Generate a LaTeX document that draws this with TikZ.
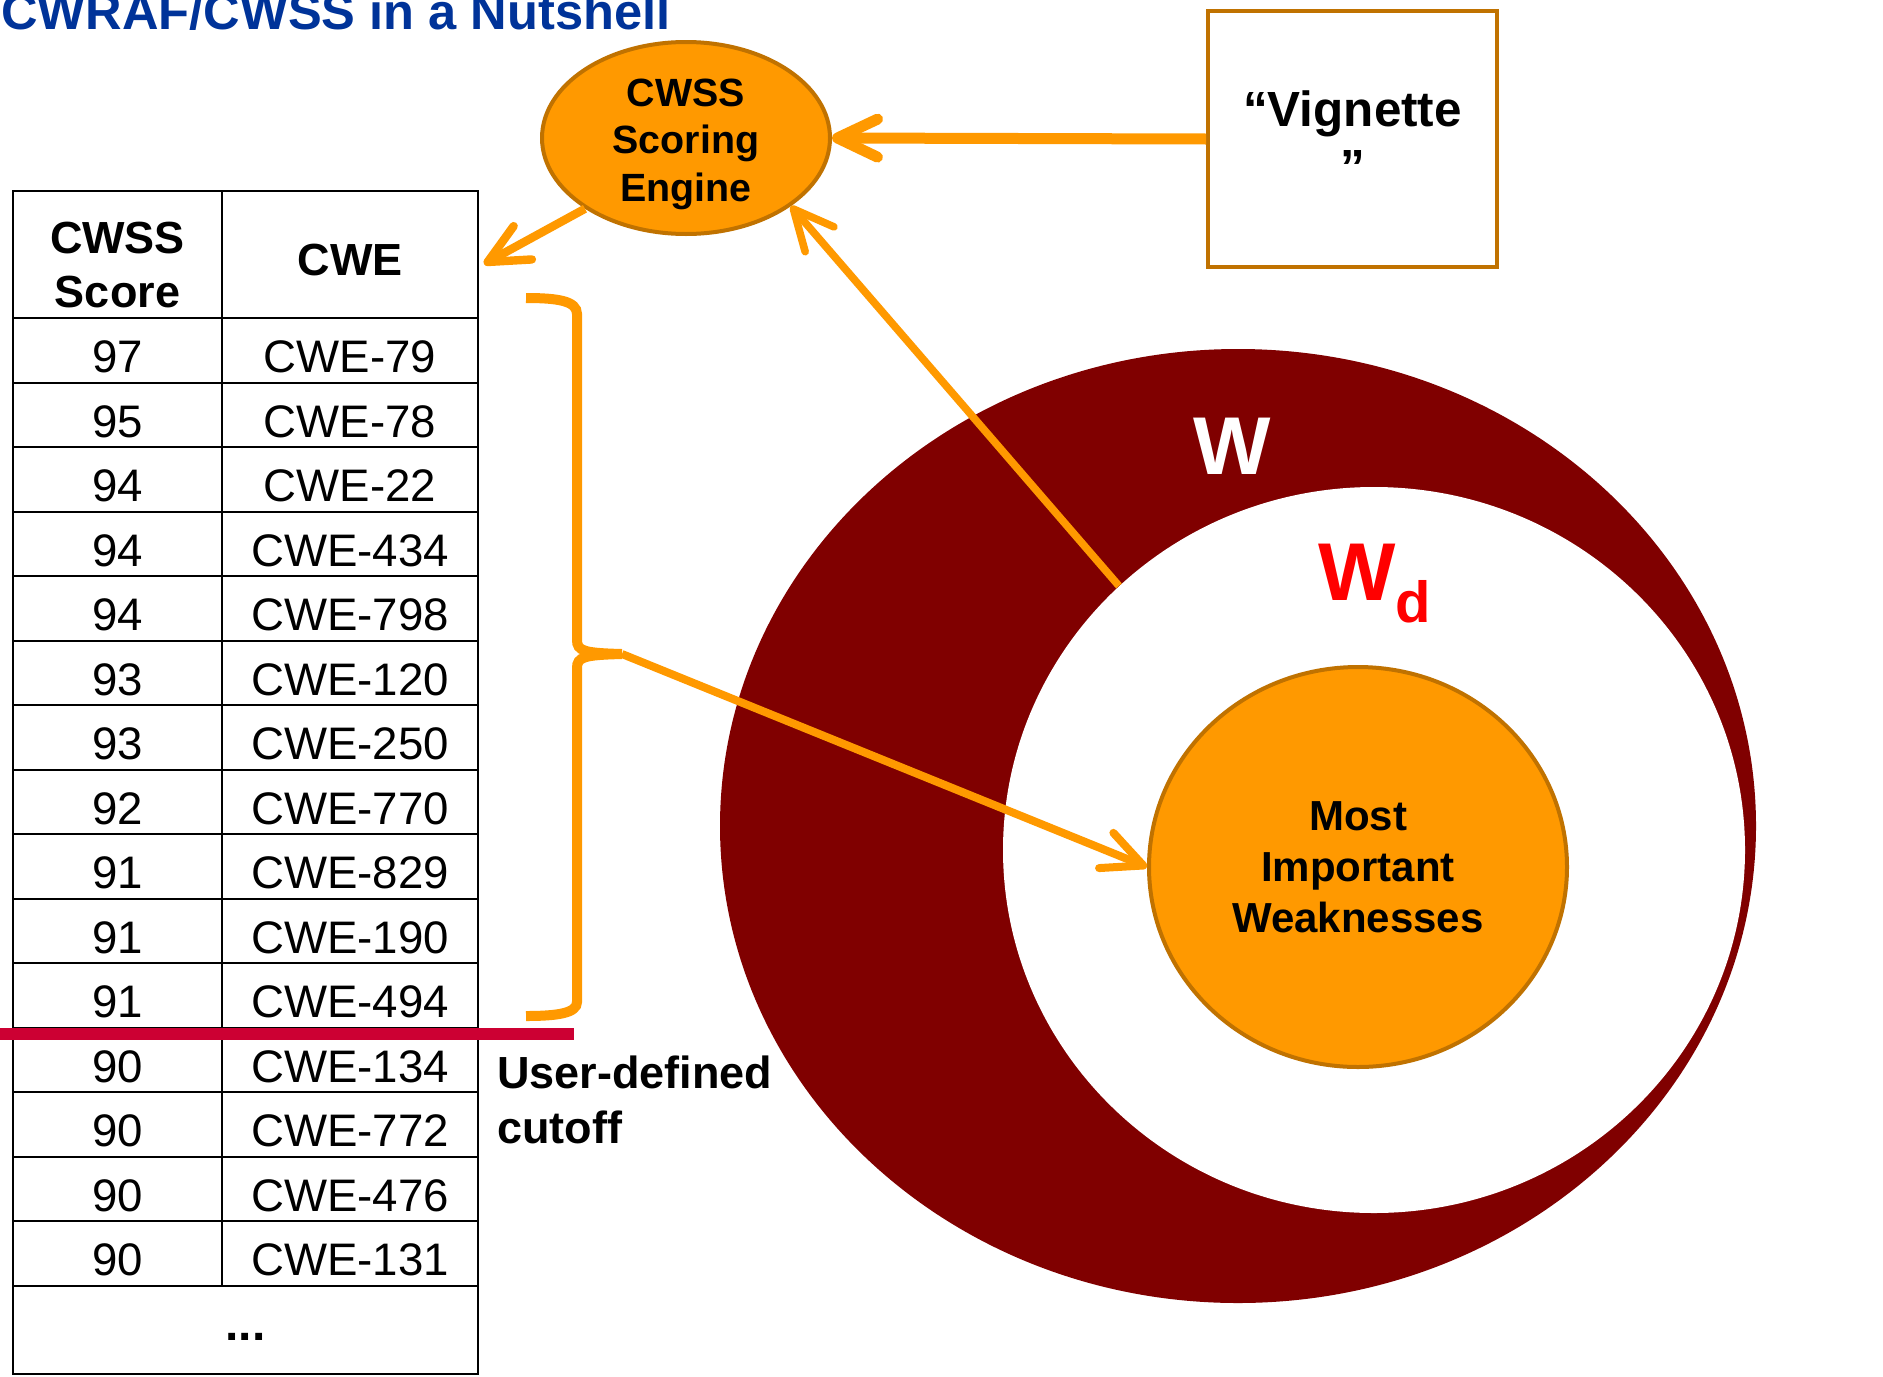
\documentclass[tikz,border=0pt]{standalone}
\usepackage{fontspec}
\setmainfont{Liberation Sans}
\usetikzlibrary{arrows.meta,shapes.geometric,calc}

\definecolor{ringred}{RGB}{128,0,0}
\definecolor{amber}{RGB}{255,153,0}
\definecolor{amberedge}{RGB}{192,114,0}
\definecolor{cutred}{RGB}{204,0,51}
\definecolor{titleblue}{RGB}{0,51,153}

\newcommand\fsz[2]{\fontsize{#1}{#2}\selectfont}

\begin{document}
\begin{tikzpicture}[x=0.5pt,y=-0.5pt,
  link/.style={draw=amber, line width=4pt, -{Straight Barb[length=20pt,width=19pt,round]}},
  cell/.style={anchor=base, inner sep=0pt, font=\fsz{22.8}{27}},
  headcell/.style={inner sep=0pt, align=center, font=\fsz{22.5}{26.7}\bfseries},
  gridline/.style={draw=black, line width=1.2pt},
  blob/.style={ellipse, inner sep=0pt, fill=amber, draw=amberedge, line width=2pt, align=center},
]
\useasboundingbox (0,0) rectangle (1883,1376);
\clip (0,0) rectangle (1883,1376);

% heading
\node[anchor=base west, inner sep=0pt, text=titleblue, font=\fsz{25.3}{30}\bfseries] (title) at (1,29) {CWRAF/CWSS in a Nutshell};

% nested sets of weaknesses
\node[ellipse, inner sep=0pt, fill=ringred, minimum width=518pt, minimum height=477pt] (wall) at (1238,826) {};
\node[ellipse, inner sep=0pt, fill=white, minimum width=371pt, minimum height=363pt] (wd) at (1374,850) {};
\node[blob, minimum width=209pt, minimum height=200pt, font=\fsz{21}{25.5}\bfseries] (mi) at (1358,867) {Most\\Important\\Weaknesses};
\node[anchor=base, inner sep=0pt, text=white, font=\fsz{41}{41}\bfseries] (wlab) at (1232,474) {W};
\node[anchor=base west, inner sep=0pt, text=red, font=\fsz{41}{41}\bfseries] (wdlab) at (1318,600) {W\raisebox{-11pt}{\fsz{29}{29}d}};

% scoring engine and vignette
\node[blob, minimum width=144pt, minimum height=96pt] (eng) at (686,138) {};
\node[inner sep=0pt, align=center, font=\fsz{19.7}{23.75}\bfseries] (engtxt) at (686,144) {CWSS\\Scoring\\Engine};
\node[draw=amberedge, line width=2pt, minimum width=144.5pt, minimum height=128pt, inner sep=0pt] (vig) at (1352.5,139) {};
\node[inner sep=0pt, align=center, font=\fsz{24.7}{28.7}\bfseries] (vigtxt) at (1352.5,137.5) {“Vignette\\”};

% ranked table
\draw[gridline] (13,191) rectangle (478,1374);
\draw[gridline] (222,191) -- (222,1285.7);
\foreach \k in {0,...,15}
  \draw[gridline] (13,{318.2+64.5*\k}) -- (478,{318.2+64.5*\k});
\node[headcell] (hscore) at (117.5,265) {CWSS\\Score};
\node[headcell] (hcwe) at (350,260) {CWE};
\foreach \s/\c [count=\i] in {97/CWE-79,95/CWE-78,94/CWE-22,94/CWE-434,94/CWE-798,
    93/CWE-120,93/CWE-250,92/CWE-770,91/CWE-829,91/CWE-190,91/CWE-494,
    90/CWE-134,90/CWE-772,90/CWE-476,90/CWE-131} {
  \node[cell] (score\i) at (117.5,{318.2+64.5*\i-10}) {\s};
  \node[cell] (cwe\i) at (350,{318.2+64.5*\i-10}) {\c};
}
\node[cell, font=\fsz{24}{28}\bfseries] (more) at (245.5,1340) {...};
\coordinate (tabhead) at (484,264);

% cutoff
\draw[cutred, line width=6pt] (0,1034) -- (574,1034);
\node[anchor=north west, inner sep=0pt, align=left, font=\fsz{22.5}{27.5}\bfseries] (cutlbl) at (497,1055) {User-defined\\cutoff};

% brace around the selected rows
\draw[amber, line width=5pt]
  (526,298) .. controls (558,298) and (577,301) .. (577,314)
  -- (577,640) .. controls (577,651) and (584,653) .. (622,654) coordinate (bracetip)
  .. controls (584,655) and (577,657) .. (577,668)
  -- (577,1002) .. controls (577,1013) and (558,1016) .. (526,1016);

% connectors
\draw[link, line width=5.5pt] (vig.west) -- (eng.east);
\draw[link, line width=3.8pt] (wd.134) -- (eng.-33);
\draw[link, line width=4.2pt] (eng.215) -- (tabhead);
\draw[link] (bracetip) -- (mi.west);
\end{tikzpicture}
\end{document}
